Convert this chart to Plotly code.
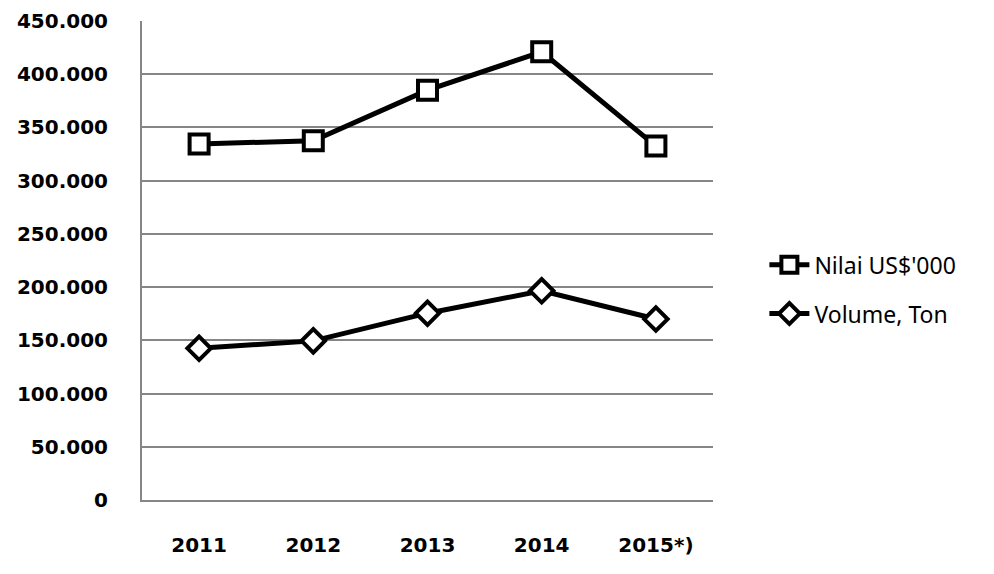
import plotly.graph_objects as go

years = ["2011", "2012", "2013", "2014", "2015*)"]
nilai = [334500, 337500, 385000, 421000, 332500]
volume = [142500, 149500, 175500, 196500, 170000]
series_names = ["Nilai US$'000", "Volume, Ton"]

fig = go.Figure()
fig.add_trace(go.Scatter(
    x=years, y=nilai, name=series_names[0], mode="lines+markers",
    line=dict(color="black", width=5),
    marker=dict(symbol="square", size=19, color="white", line=dict(color="black", width=4)),
    legendgroup="a",
))
fig.add_trace(go.Scatter(
    x=years, y=volume, name=series_names[1], mode="lines+markers",
    line=dict(color="black", width=5),
    marker=dict(symbol="diamond", size=18, color="white", line=dict(color="black", width=4)),
    legendgroup="b",
))

fig.update_layout(
    width=994, height=574,
    margin=dict(l=134, r=289, t=13, b=82, autoexpand=False),
    plot_bgcolor="white", paper_bgcolor="white",
    separators=",.",
    showlegend=True,
    legend=dict(x=1.09, y=0.44, xanchor="left", yanchor="middle",
                font=dict(family="Noto Sans", size=23, color="black"),
                tracegroupgap=16, itemwidth=40),
    xaxis=dict(range=[-0.5, 4.5], showgrid=False, zeroline=False,
               showline=True, linecolor="#868686", linewidth=2,
               automargin=False,
               tickfont=dict(family="DejaVu Sans", size=20, color="black", weight="bold"),
               ticklabelstandoff=26),
    yaxis=dict(range=[0, 450000], dtick=50000, tickformat=",d",
               showgrid=True, gridcolor="#868686", gridwidth=2,
               zeroline=False, showline=True, linecolor="#868686", linewidth=2,
               automargin=False,
               tickfont=dict(family="DejaVu Sans", size=20, color="black", weight="bold"),
               ticklabelstandoff=28),
)

fig.write_html("out.html")
